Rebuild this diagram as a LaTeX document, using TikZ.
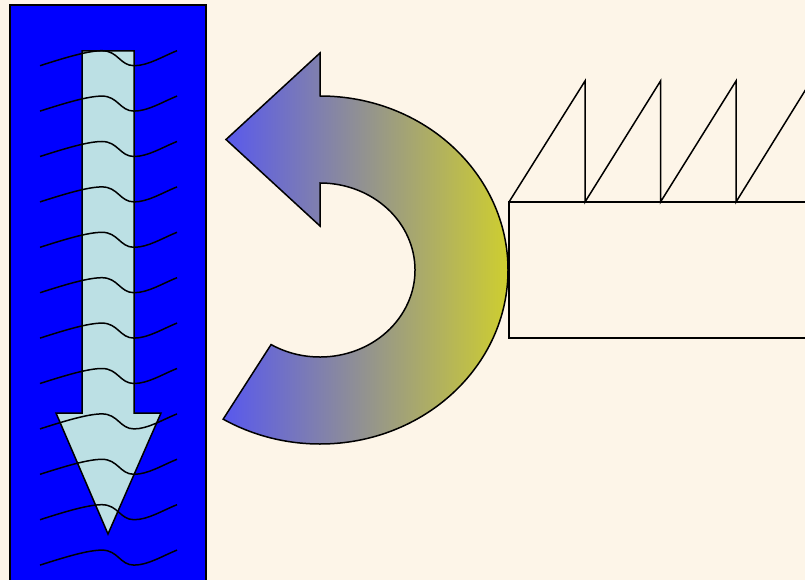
\documentclass[tikz,border=0pt]{standalone}
\usetikzlibrary{calc}
\definecolor{bgcream}{RGB}{253,245,232}
\definecolor{pureblue}{RGB}{0,0,255}
\definecolor{paleblue}{RGB}{188,224,228}
\definecolor{gradleft}{RGB}{88,88,238}
\definecolor{gradmid}{RGB}{170,170,152}
\definecolor{gradright}{RGB}{206,206,48}
\tikzset{
  outline/.style={draw=black, line width=1.5pt, line join=miter},
  wave/.style={draw=black, line width=1.5pt},
}
\begin{document}
\begin{tikzpicture}[x=1pt,y=-1pt]
\clip (0,0) rectangle (805,580);
\fill[bgcream] (0,0) rectangle (805,580);
% blue panel
\draw[outline, fill=pureblue] (10,5) rectangle (206,590);
% light blue down arrow
\draw[outline, fill=paleblue] (82,51) -- (134,51) -- (134,413) -- (161,413) -- (108,534) -- (56,413) -- (82,413) -- cycle;
% wavy lines
\foreach \i in {0,...,11}{
  \pgfmathsetmacro{\yy}{50.7+45.4*\i}
  \draw[wave] (40,\yy+15) .. controls (65,\yy+7) and (88,\yy) .. (102,\yy)
     .. controls (118,\yy) and (120,\yy+15) .. (134,\yy+15)
     .. controls (148,\yy+15) and (162,\yy+6) .. (177,\yy);
}
% curved arrow
\draw[outline, left color=gradleft, middle color=gradmid, right color=gradright]
  (320,96) arc[start angle=-90, end angle=121, x radius=188, y radius=174]
  -- ($(320,270)+(121:95 and 87)$)
  arc[start angle=121, end angle=-90, x radius=95, y radius=87]
  -- (320,226) -- (226,139.5) -- (320,53) -- cycle;
% saw and box
\draw[outline] (509,202) rectangle (860,338);
\draw[outline] (509,202) -- (585,81) -- (585,202)
  -- (660.5,81) -- (660.5,202)
  -- (736,81) -- (736,202)
  -- (811,81) -- (811,202);
\end{tikzpicture}
\end{document}
